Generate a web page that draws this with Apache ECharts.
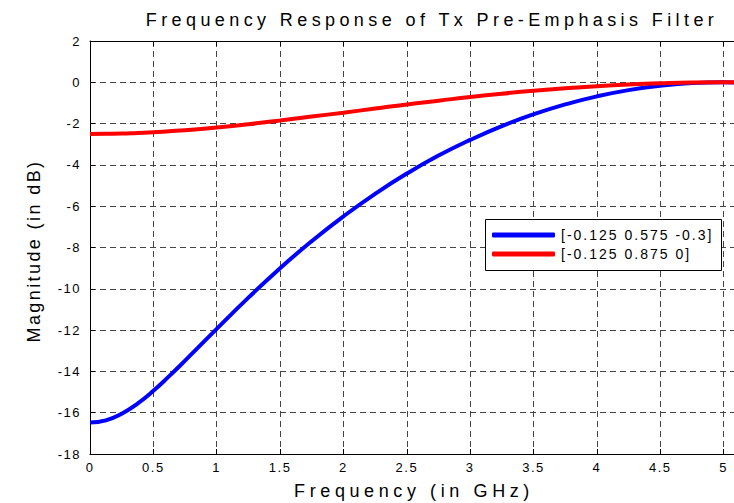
<!DOCTYPE html>
<html>
<head>
<meta charset="utf-8">
<script src="https://cdn.jsdelivr.net/npm/echarts@6/dist/echarts.min.js"></script>
<style>
html,body{margin:0;padding:0;background:#fff;overflow:hidden;}
#c{width:734px;height:503px;}
</style>
</head>
<body>
<div id="c"></div>
<script>
var titleText = 'Frequency Response of Tx Pre-Emphasis Filter';
var xName = 'Frequency (in GHz)';
var yName = 'Magnitude (in dB)';
var seriesNames = ['[-0.125 0.575 -0.3]', '[-0.125 0.875 0]'];
var freq = [0, 0.125, 0.25, 0.375, 0.5, 0.625, 0.75, 1, 1.25, 1.5, 1.75, 2, 2.25, 2.5, 2.75, 3, 3.25, 3.5, 3.75, 4, 4.25, 4.5, 4.75, 5, 5.25];
var blueDb = [-16.48, -16.37, -16.05, -15.56, -14.94, -14.23, -13.48, -11.94, -10.43, -9.00, -7.69, -6.49, -5.40, -4.42, -3.55, -2.79, -2.12, -1.55, -1.07, -0.68, -0.38, -0.17, -0.04, 0, -0.04];
var redDb = [-2.50, -2.49, -2.48, -2.45, -2.42, -2.37, -2.32, -2.19, -2.03, -1.85, -1.66, -1.47, -1.27, -1.07, -0.89, -0.71, -0.55, -0.41, -0.29, -0.19, -0.11, -0.05, -0.01, 0, -0.01];

function pairs(xs, ys){ return xs.map(function(x,i){ return [x, ys[i]]; }); }

var chart = echarts.init(document.getElementById('c'), null, {renderer:'svg'});
var font = 'Arial, "Liberation Sans", Helvetica, sans-serif';
var gridStyle = {show:true, lineStyle:{color:'#444', width:1, type:[6,4]}};
chart.setOption({
  animation:false,
  backgroundColor:'#fff',
  grid:{left:90, top:41, right:-53, bottom:49, containLabel:false, outerBoundsMode:'none'},
  xAxis:[{
    type:'value', min:0, max:5.5, interval:0.5, position:'bottom',
    axisLine:{show:true, onZero:false, lineStyle:{color:'#000', width:1}},
    axisTick:{show:true, inside:true, length:5, lineStyle:{color:'#000'}},
    axisLabel:{color:'#000', fontSize:13, fontFamily:font, margin:7, showMaxLabel:false},
    splitLine:gridStyle
  },{
    type:'value', min:0, max:5.5, interval:0.5, position:'top',
    axisLine:{show:true, onZero:false, lineStyle:{color:'#000', width:1}},
    axisTick:{show:true, inside:true, length:5, lineStyle:{color:'#000'}},
    axisLabel:{show:false}, splitLine:{show:false}
  }],
  yAxis:[{
    type:'value', min:-18, max:2, interval:2,
    axisLine:{show:true, onZero:false, lineStyle:{color:'#000', width:1}},
    axisTick:{show:true, inside:true, length:5, lineStyle:{color:'#000'}},
    axisLabel:{color:'#000', fontSize:13, fontFamily:font, margin:9},
    splitLine:gridStyle
  }],
  legend:{
    show:true, orient:'vertical', left:492, top:228, padding:0, z:100,
    itemWidth:63, itemHeight:5, itemGap:5, icon:'roundRect',
    textStyle:{color:'#000', fontSize:14, fontFamily:font, padding:[0,0,0,1]},
    data:seriesNames, selectedMode:false
  },
  graphic:[
    {type:'rect', left:485, top:219, shape:{width:236, height:51}, style:{fill:'#fff', stroke:'#000', lineWidth:1}, z:20},
    {type:'text', x:432, y:20, style:{text:titleText, fill:'#000', font:'18px '+font, textAlign:'center', textVerticalAlign:'middle'}},
    {type:'text', x:414, y:491, style:{text:xName, fill:'#000', font:'18px '+font, textAlign:'center', textVerticalAlign:'middle'}},
    {type:'text', x:34, y:251, rotation:Math.PI/2, style:{text:yName, fill:'#000', font:'18px '+font, textAlign:'center', textVerticalAlign:'middle'}}
  ],
  series:[
    {name:seriesNames[0], type:'line', data:pairs(freq, blueDb), smooth:0.5, symbol:'none', clip:true,
     lineStyle:{color:'#0000ff', width:4}, itemStyle:{color:'#0000ff'}, z:3},
    {name:seriesNames[1], type:'line', data:pairs(freq, redDb), smooth:0.5, symbol:'none', clip:true,
     lineStyle:{color:'#ff0000', width:4}, itemStyle:{color:'#ff0000'}, z:4}
  ]
});

// Matlab-style wide letter spacing on the rendered SVG text
function spaceText(){
  var nodes = document.querySelectorAll('#c text');
  nodes.forEach(function(t){
    var s = t.textContent;
    var sp = '1.5px';
    if (s === titleText) sp = '4.4px';
    else if (s === xName) sp = '4.6px';
    else if (s === yName) sp = '2.4px';
    else if (seriesNames.indexOf(s) >= 0) sp = '2px';
    t.style.letterSpacing = sp;
  });
}
spaceText();
chart.on('finished', spaceText);
setTimeout(spaceText, 0);
</script>
</body>
</html>
